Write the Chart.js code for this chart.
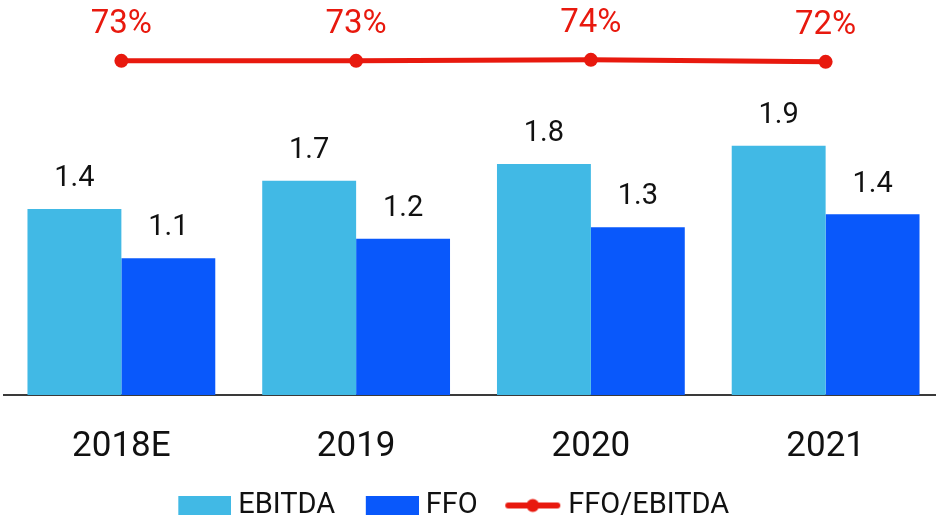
<!DOCTYPE html>
<html>
<head>
<meta charset="utf-8">
<script src="https://cdn.jsdelivr.net/npm/chart.js@4.4.1/dist/chart.umd.min.js"></script>
<style>
    html, body { margin: 0; padding: 0; background: #fff; overflow: hidden; }
    #wrap { width: 936px; height: 518px; overflow: hidden; }
</style>
</head>
<body>
<div id="wrap"><canvas id="myChart" width="943" height="518"></canvas></div>
<script>
const years = ["2018E", "2019", "2020", "2021"];
const ebitda = [1.44, 1.66, 1.79, 1.93];
const ffo = [1.06, 1.21, 1.30, 1.40];
const ffoToEbitda = [73, 73, 74, 72];

const FONT = "Roboto, 'DejaVu Sans', sans-serif";
const LIGHT_BLUE = "#41B9E5";
const BLUE = "#0958FB";
const RED = "#E8190E";

// legend markers are small canvases; the transparent strip on the left
// lets the marker sit close to its text like in the original
const MARK_W = 81;

function rectMarker(color) {
    const c = document.createElement("canvas");
    c.width = MARK_W;
    c.height = 19;
    const ctx = c.getContext("2d");
    ctx.fillStyle = color;
    ctx.fillRect(MARK_W - 53, 0, 53, 19);
    return c;
}

function lineMarker() {
    const c = document.createElement("canvas");
    c.width = MARK_W;
    c.height = 16;
    const ctx = c.getContext("2d");
    const x0 = MARK_W - 57;
    ctx.strokeStyle = RED;
    ctx.fillStyle = RED;
    ctx.lineWidth = 6;
    ctx.lineCap = "round";
    ctx.beginPath();
    ctx.moveTo(x0 + 4, 8);
    ctx.lineTo(x0 + 53, 8);
    ctx.stroke();
    ctx.beginPath();
    ctx.arc(x0 + 28.5, 8, 6.5, 0, Math.PI * 2);
    ctx.fill();
    return c;
}

// value labels above bars and points
const valueLabels = {
    id: "valueLabels",
    afterDatasetsDraw(chart) {
        const ctx = chart.ctx;
        ctx.save();
        ctx.textAlign = "center";
        ctx.textBaseline = "middle";
        chart.data.datasets.forEach((ds, i) => {
            const meta = chart.getDatasetMeta(i);
            meta.data.forEach((el, j) => {
                const v = ds.data[j];
                if (ds.type === "line") {
                    ctx.font = "33px " + FONT;
                    ctx.fillStyle = RED;
                    ctx.fillText(v + "%", el.x, el.y - 36);
                } else {
                    ctx.font = "29px " + FONT;
                    ctx.fillStyle = "#111";
                    ctx.fillText(v.toFixed(1), el.x, el.y - 30);
                }
            });
        });
        ctx.restore();
    },
};

// nudge the legend to where it sits in the original
const legendShift = {
    id: "legendShift",
    afterLayout(chart) {
        chart.legend.left -= 30;
        chart.legend.right -= 30;
    },
};

const markers = { EBITDA: rectMarker(LIGHT_BLUE), FFO: rectMarker(BLUE), "FFO/EBITDA": lineMarker() };

new Chart(document.getElementById("myChart"), {
    type: "bar",
    data: {
        labels: years,
        datasets: [
            {
                type: "line",
                label: "FFO/EBITDA",
                data: ffoToEbitda,
                yAxisID: "y2",
                borderColor: RED,
                backgroundColor: RED,
                borderWidth: 5,
                pointRadius: 7,
                pointBackgroundColor: RED,
                pointBorderWidth: 0,
                tension: 0,
                order: 0,
            },
            {
                label: "EBITDA",
                data: ebitda,
                backgroundColor: LIGHT_BLUE,
                categoryPercentage: 0.8,
                barPercentage: 1.0,
                order: 1,
            },
            {
                label: "FFO",
                data: ffo,
                backgroundColor: BLUE,
                categoryPercentage: 0.8,
                barPercentage: 1.0,
                order: 1,
            },
        ],
    },
    options: {
        responsive: false,
        animation: false,
        devicePixelRatio: 1,
        layout: { autoPadding: false, padding: { left: 4, right: 0, top: 0, bottom: -12 } },
        scales: {
            x: {
                grid: { display: false, drawTicks: false },
                border: { display: true, color: "#3a3a3a", width: 2 },
                ticks: { color: "#111", font: { family: FONT, size: 35 }, padding: 31 },
                afterFit: (scale) => { scale.height = 86; },
            },
            y: {
                display: false,
                min: 0,
                max: 3.06,
            },
            y2: {
                display: false,
                min: -262,
                max: 134,
            },
        },
        plugins: {
            tooltip: { enabled: false },
            legend: {
                position: "bottom",
                labels: {
                    usePointStyle: true,
                    pointStyleWidth: 66,
                    boxHeight: 19,
                    padding: 10,
                    color: "#111",
                    font: { family: FONT, size: 29 },
                    generateLabels(chart) {
                        const items = Chart.defaults.plugins.legend.labels.generateLabels(chart);
                        items.forEach((it) => {
                            it.pointStyle = markers[it.text];
                            it.lineWidth = 0;
                        });
                        // bars first, line last, as in the original
                        const order = ["EBITDA", "FFO", "FFO/EBITDA"];
                        return items.sort((a, b) => order.indexOf(a.text) - order.indexOf(b.text));
                    },
                },
            },
        },
    },
    plugins: [valueLabels, legendShift],
});
</script>
</body>
</html>
